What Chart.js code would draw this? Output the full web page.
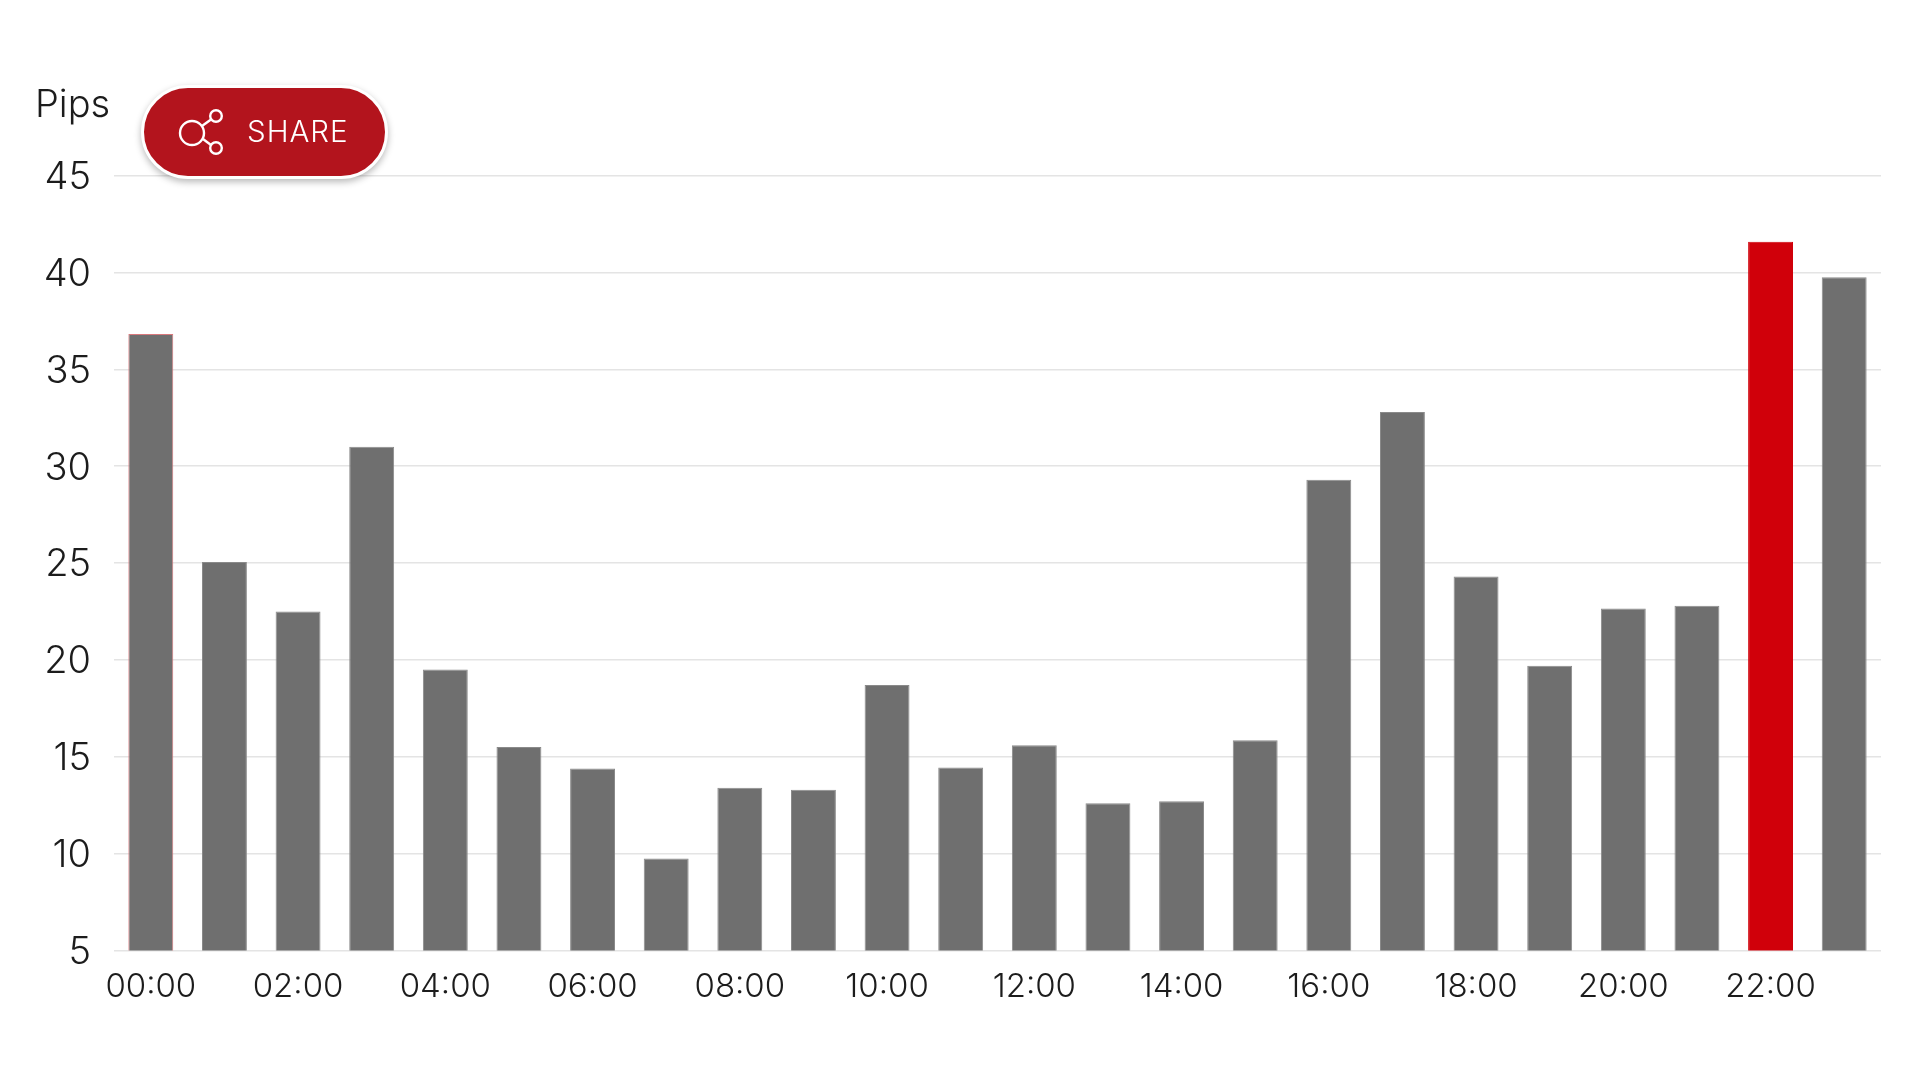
<!DOCTYPE html>
<html>
<head>
<meta charset="utf-8">
<style>
html,body{margin:0;padding:0;width:1920px;height:1080px;background:#fff;overflow:hidden;font-family:Inter,sans-serif;}
#wrap{position:absolute;left:0;top:0;width:1920px;height:1080px;}
#pips{position:absolute;left:35px;top:79px;font-size:38px;line-height:48px;color:#1c1c1c;font-weight:300;font-family:Inter,sans-serif;}
#share{position:absolute;left:141px;top:85px;width:247px;height:94px;box-sizing:border-box;border:3px solid #fff;border-radius:47px;background:#b3141d;box-shadow:0 3px 7px rgba(0,0,0,.28);}
#share svg{position:absolute;left:34px;top:20px;}
#share span{position:absolute;left:103px;top:23px;font-size:29.5px;line-height:40px;color:#fff;letter-spacing:1px;font-weight:300;font-family:Inter,sans-serif;}
</style>
</head>
<body>
<div id="wrap">
<canvas id="c" width="1920" height="1080"></canvas>
<div id="pips">Pips</div>
<div id="share">
<svg width="50" height="50" viewBox="0 0 50 50" fill="none" stroke="#fff" stroke-width="2.4">
<circle cx="14" cy="25" r="12"/><circle cx="38" cy="8" r="5.8"/><circle cx="38" cy="40" r="5.8"/>
<line x1="24" y1="18" x2="33" y2="11.5"/><line x1="25" y1="31" x2="33" y2="37"/>
</svg>
<span>SHARE</span>
</div>
</div>
<script src="https://cdn.jsdelivr.net/npm/chart.js@4/dist/chart.umd.min.js"></script>
<script>
const categories = ["00:00","01:00","02:00","03:00","04:00","05:00","06:00","07:00","08:00","09:00","10:00","11:00","12:00","13:00","14:00","15:00","16:00","17:00","18:00","19:00","20:00","21:00","22:00","23:00"];
const pips = [36.82,25.05,22.5,31.0,19.5,15.5,14.4,9.75,13.4,13.3,18.7,14.45,15.6,12.6,12.7,15.85,29.3,32.8,24.3,19.7,22.65,22.8,41.58,39.75];
const yTicks = [5,10,15,20,25,30,35,40,45];
const grey = "#6f6f6f", red = "#d0000a";
const barColors = categories.map((c,i)=> i===22 ? red : grey);
const barBorders = categories.map((c,i)=> i===0 ? "#d9787c" : (i===22 ? red : "#8a8a8a"));
const fontFamily = 'Inter, sans-serif';
new Chart(document.getElementById("c"),{
  type:"bar",
  data:{labels:categories,datasets:[{data:pips,backgroundColor:barColors,borderColor:barBorders,borderWidth:1,categoryPercentage:1,barPercentage:0.61}]},
  options:{
    responsive:false,animation:false,
    layout:{padding:{left:0,right:39,top:175.5,bottom:59.5}},
    plugins:{legend:{display:false},tooltip:{enabled:false}},
    scales:{
      x:{
        grid:{display:false},border:{display:false},
        afterFit(s){s.height=70;},
        ticks:{autoSkip:false,maxRotation:0,minRotation:0,padding:9,color:"#1c1c1c",font:{family:fontFamily,size:33,weight:"300"},
          callback(v,i){return i%2===0?categories[i]:"";}}
      },
      y:{
        min:5,max:45,
        afterFit(s){s.width=114;},
        afterBuildTicks(s){s.ticks=yTicks.map(v=>({value:v}));},
        grid:{color:"#e4e4e4",lineWidth:1.5,drawTicks:false},border:{display:false},
        ticks:{padding:23,labelOffset:2,color:"#1c1c1c",font:{family:fontFamily,size:38,weight:"300"}}
      }
    }
  }
});
</script>
</body>
</html>
